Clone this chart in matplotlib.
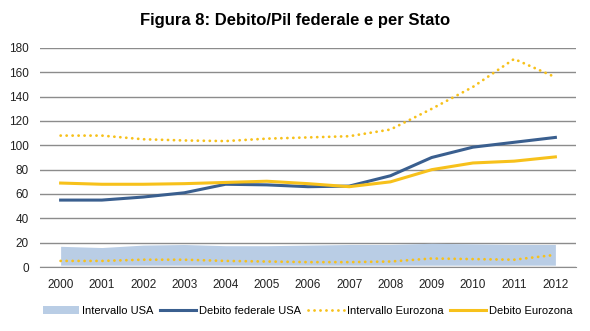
import numpy as np
import matplotlib
matplotlib.use("Agg")
import matplotlib.pyplot as plt

plt.rcParams['font.family'] = ['Liberation Sans Narrow', 'Liberation Sans', 'DejaVu Sans']

anni = ['2000', '2001', '2002', '2003', '2004', '2005', '2006',
        '2007', '2008', '2009', '2010', '2011', '2012']

usa_min = [1.5, 1.5, 1.5, 1.5, 1.5, 1.5, 1.5, 1.5, 1.5, 1.5, 1.5, 1.5, 1.5]
usa_max = [17, 16, 18, 18.5, 17.5, 17.5, 18, 18.5, 18.5, 19.5, 19, 18.5, 18.5]
debito_usa = [55, 55, 57.5, 61, 68, 67.5, 66, 66.5, 75, 90, 98.5, 102.5, 106.5]
euro_max = [108, 108, 105, 104, 103.5, 105.5, 106.5, 107.5, 113, 130, 148, 171, 156]
euro_min = [5, 5, 6, 6, 5, 4.5, 4, 4, 4.5, 7, 6.5, 6, 10]
debito_euro = [69, 68, 68, 68.5, 69.5, 70.5, 68.5, 66, 70, 80, 85.5, 87, 90.5]

blu = '#3a5f8f'
giallo = '#f7c11b'
banda = '#b9cde5'
punti = (0, (0.05, 2.1))

x = np.arange(len(anni))

fig = plt.figure(figsize=(5.9, 3.31), dpi=100)
ax = fig.add_axes([40/590, 1 - 267/331, 536/590, 219/331])

ax.fill_between(x, usa_min, usa_max, color=banda, lw=0, label='Intervallo USA', zorder=2)
ax.plot(x, debito_usa, color=blu, lw=2.2, label='Debito federale USA', zorder=4)
ax.plot(x, euro_max, color=giallo, lw=2, ls=punti, dash_capstyle='round',
        label='Intervallo Eurozona', zorder=3)
ax.plot(x, euro_min, color=giallo, lw=2, ls=punti, dash_capstyle='round', zorder=3)
ax.plot(x, debito_euro, color=giallo, lw=2.2, label='Debito Eurozona', zorder=4)

ax.set_xlim(-0.5, len(anni) - 0.5)
ax.set_ylim(0, 180)
ax.set_yticks(range(0, 181, 20))
ax.set_xticks(x)
ax.set_xticklabels(anni)
ax.grid(axis='y', color='#8c8c8c', lw=1)
ax.set_axisbelow(True)
for s in ['top', 'right', 'left']:
    ax.spines[s].set_visible(False)
ax.spines['bottom'].set_color('#8c8c8c')
ax.tick_params(length=0, labelsize=8.5, colors='#222222')
ax.tick_params(axis='x', pad=9)
ax.tick_params(axis='y', pad=8)

fig.text(0.5, 1 - 20/331, 'Figura 8: Debito/Pil federale e per Stato', ha='center', va='center',
         fontsize=12, fontweight='bold')

leg = ax.legend(loc='center', bbox_to_anchor=(0.5, -0.2), ncol=4, frameon=False,
                fontsize=8, handlelength=3.2, columnspacing=0.6, handletextpad=0.3)

fig.savefig('out.png', dpi=100)
